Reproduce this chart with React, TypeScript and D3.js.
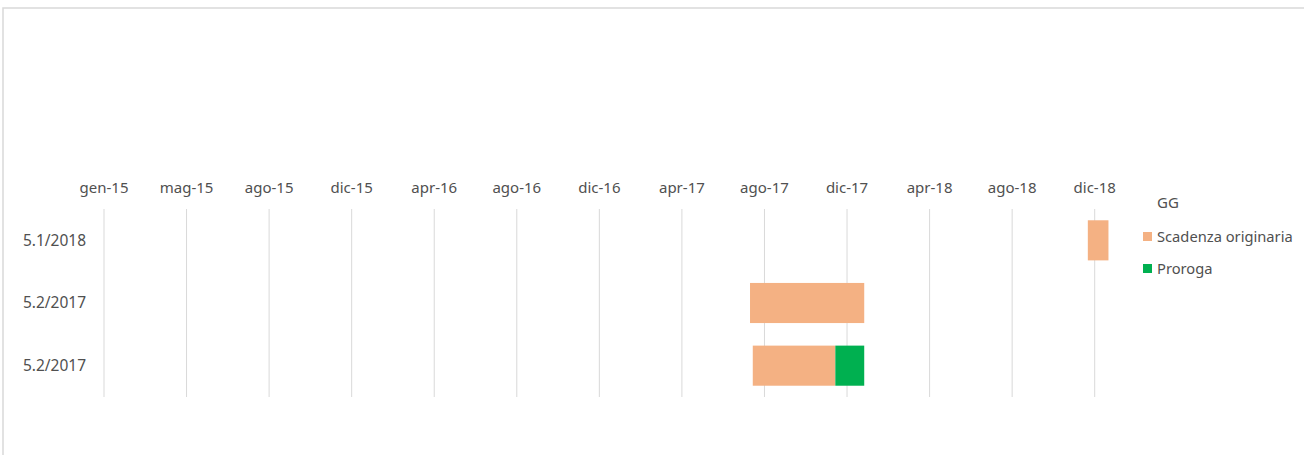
import React from "react";
import * as d3 from "d3";

// ---- data ----
const categories: string[] = ["5.1/2018", "5.2/2017", "5.2/2017"];
const startDates: string[] = ["2018-12-01", "2017-07-28", "2017-08-01"];
const scadenzaDays: number[] = [30, 166, 120];
const prorogaDays: number[] = [0, 0, 42];
const seriesNames: string[] = ["Scadenza originaria", "Proroga"];
const legendTitle = "GG";
const tickStart = "2015-01-01";
const tickStepDays = 120;
const tickLabels: string[] = [
  "gen-15", "mag-15", "ago-15", "dic-15", "apr-16", "ago-16", "dic-16",
  "apr-17", "ago-17", "dic-17", "apr-18", "ago-18", "dic-18",
];

const W = 1304;
const H = 455;
const FONT = "'Noto Sans', 'Open Sans', sans-serif";
const TEXT = "#505050";
const GRID = "#d9d9d9";
const COLORS = ["#F4B183", "#00B050"];

export default function App() {
  const parse = d3.utcParse("%Y-%m-%d");
  const t0 = parse(tickStart)!;
  const tickDates = tickLabels.map((_, i) => d3.utcDay.offset(t0, i * tickStepDays));
  const tLast = tickDates[tickDates.length - 1];

  const x = d3.scaleUtc().domain([t0, tLast]).range([104, 1094.7]);
  const y = d3.scaleBand<number>().domain(d3.range(categories.length)).range([209, 397]).paddingInner(0.36).paddingOuter(0.18);

  const rows = categories.map((c, i) => {
    const s = parse(startDates[i])!;
    const e1 = d3.utcDay.offset(s, scadenzaDays[i]);
    const e2 = d3.utcDay.offset(e1, prorogaDays[i]);
    return { c, i, segs: [[s, e1], [e1, e2]] as [Date, Date][] };
  });

  return (
    <div style={{ position: "fixed", left: 0, top: 0, width: W, height: H, background: "#fff" }}>
      <svg width={W} height={H} style={{ display: "block" }} fontFamily={FONT}>
        <rect x={3} y={8} width={W + 20} height={H + 20} fill="#fff" stroke="#d9d9d9" strokeWidth={1.5} />
        {tickDates.map((d, i) => (
          <g key={i}>
            <line x1={x(d)} x2={x(d)} y1={209} y2={397} stroke={GRID} strokeWidth={1} />
            <text x={x(d)} y={193} textAnchor="middle" fontSize={15} fill={TEXT}>{tickLabels[i]}</text>
          </g>
        ))}
        {rows.map((r) => (
          <g key={r.i}>
            <text x={86} y={y(r.i)! + y.bandwidth() / 2} dy="0.35em" textAnchor="end" fontSize={15.5} fill={TEXT}>{r.c}</text>
            {r.segs.map(([a, b], k) =>
              +b > +a ? (
                <rect key={k} x={x(a)} y={y(r.i)} width={x(b) - x(a)} height={y.bandwidth()} fill={COLORS[k]} />
              ) : null
            )}
          </g>
        ))}
        <text x={1157} y={203} dy="0.35em" fontSize={15} fill={TEXT}>{legendTitle}</text>
        {seriesNames.map((n, k) => (
          <g key={n}>
            <rect x={1143} y={232 + k * 32} width={9} height={9} fill={COLORS[k]} />
            <text x={1157} y={236.5 + k * 32} dy="0.35em" fontSize={14.7} fill={TEXT}>{n}</text>
          </g>
        ))}
      </svg>
    </div>
  );
}
